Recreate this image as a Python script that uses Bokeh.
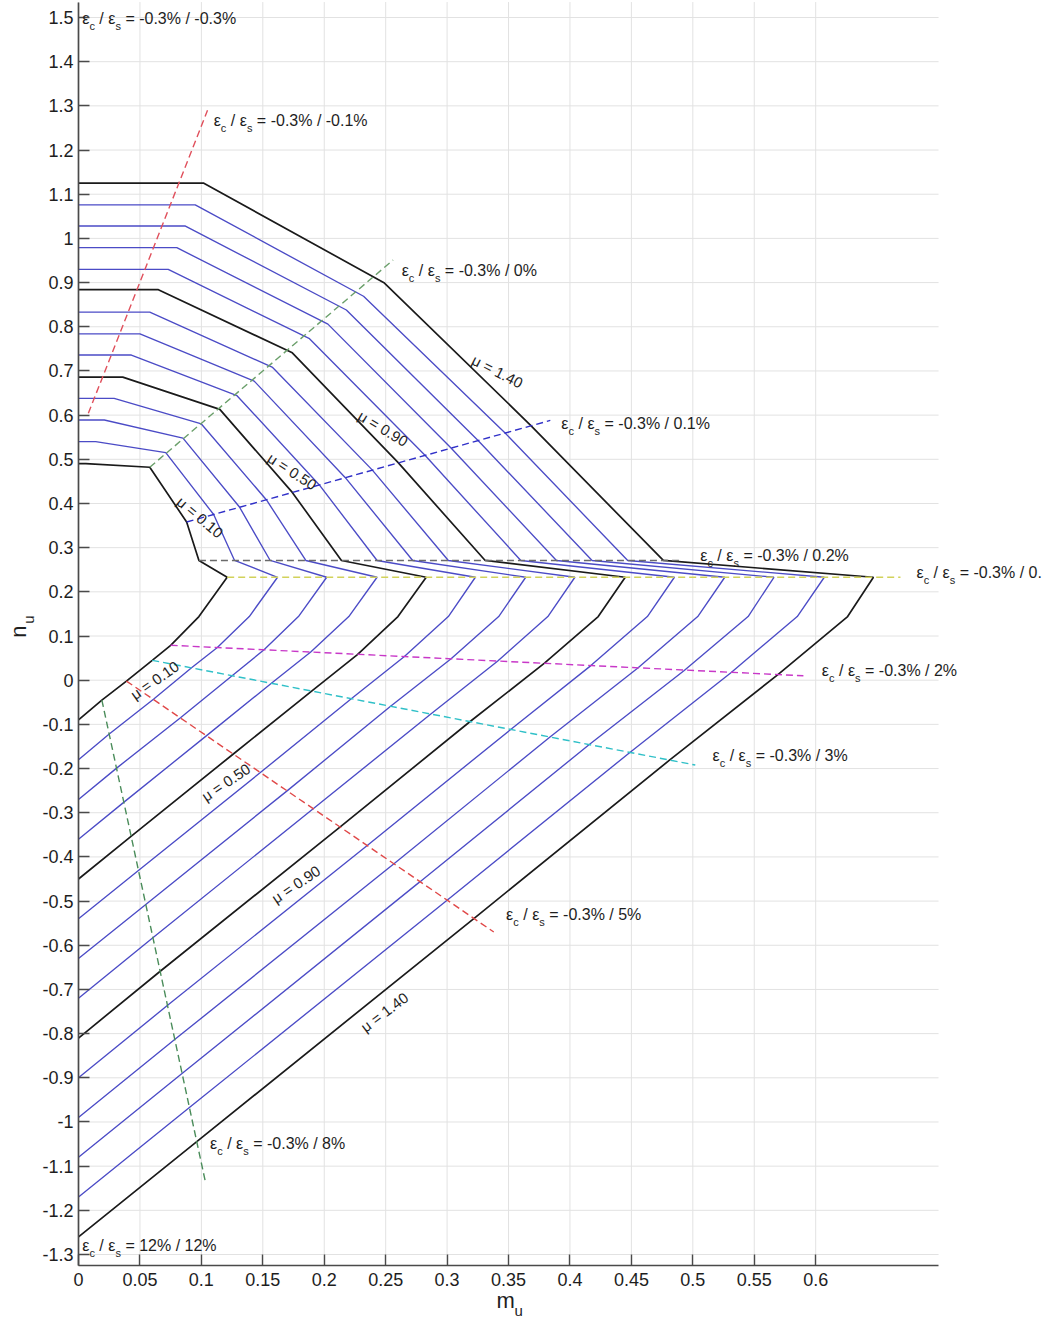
from bokeh.plotting import figure
from bokeh.models import Label, FixedTicker
from bokeh.embed import file_html
from bokeh.resources import INLINE

# ---------------- data ----------------
mu = [0.1, 0.2, 0.3, 0.4, 0.5, 0.6, 0.7, 0.8, 0.9, 1.0, 1.1, 1.2, 1.3, 1.4]
mu_black = [0.1, 0.5, 0.9, 1.4]

# top plateau (m = 0 ... end of horizontal part)
n_top = [0.490, 0.540, 0.589, 0.638, 0.686, 0.736, 0.784, 0.833, 0.884, 0.930, 0.979, 1.028, 1.076, 1.125]
m_top_end = [0.006, 0.014, 0.021, 0.029, 0.036, 0.043, 0.050, 0.058, 0.065, 0.073, 0.080, 0.087, 0.095, 0.102]
# eps_c / eps_s = -0.3% / 0%
m_s0 = [0.058, 0.071, 0.085, 0.100, 0.115, 0.129, 0.143, 0.158, 0.174, 0.188, 0.203, 0.218, 0.232, 0.249]
n_s0 = [0.482, 0.515, 0.548, 0.580, 0.613, 0.644, 0.677, 0.708, 0.741, 0.773, 0.806, 0.838, 0.869, 0.899]
# -0.3% / 0.1%
m_s01 = [0.088, 0.110, 0.131, 0.153, 0.174, 0.196, 0.217, 0.239, 0.260, 0.282, 0.303, 0.325, 0.347, 0.368]
n_s01 = [0.358, 0.375, 0.392, 0.408, 0.425, 0.442, 0.459, 0.476, 0.493, 0.509, 0.526, 0.543, 0.560, 0.577]
# -0.3% / 0.2%
m_s02 = [0.098, 0.127, 0.156, 0.185, 0.214, 0.243, 0.272, 0.301, 0.331, 0.360, 0.389, 0.418, 0.447, 0.476]
n_s02 = [0.271, 0.271, 0.271, 0.271, 0.271, 0.271, 0.271, 0.271, 0.271, 0.271, 0.271, 0.271, 0.271, 0.271]
# yield point (apex)
m_sy = [0.121, 0.162, 0.202, 0.243, 0.283, 0.323, 0.364, 0.404, 0.445, 0.485, 0.526, 0.566, 0.607, 0.647]
n_sy = [0.233, 0.233, 0.233, 0.233, 0.233, 0.233, 0.233, 0.233, 0.233, 0.233, 0.233, 0.233, 0.233, 0.233]
# lower bend
m_sb = [0.098, 0.139, 0.179, 0.220, 0.260, 0.301, 0.342, 0.382, 0.423, 0.463, 0.504, 0.545, 0.585, 0.626]
n_sb = [0.144, 0.144, 0.144, 0.144, 0.144, 0.144, 0.144, 0.144, 0.144, 0.144, 0.144, 0.144, 0.144, 0.144]
# -0.3% / 2%
m_s2 = [0.075, 0.113, 0.151, 0.189, 0.227, 0.265, 0.303, 0.341, 0.379, 0.417, 0.455, 0.493, 0.531, 0.569]
n_s2 = [0.079, 0.074, 0.069, 0.064, 0.058, 0.053, 0.048, 0.043, 0.038, 0.033, 0.027, 0.022, 0.017, 0.012]
# -0.3% / 3%
m_s3 = [0.060, 0.092, 0.125, 0.157, 0.190, 0.222, 0.254, 0.287, 0.319, 0.352, 0.384, 0.416, 0.449, 0.481]
n_s3 = [0.045, 0.028, 0.010, -0.007, -0.024, -0.042, -0.059, -0.076, -0.093, -0.111, -0.128, -0.145, -0.163, -0.181]
# -0.3% / 5%
m_s5 = [0.039, 0.061, 0.083, 0.104, 0.126, 0.148, 0.170, 0.191, 0.213, 0.235, 0.257, 0.278, 0.300, 0.322]
n_s5 = [-0.002, -0.043, -0.085, -0.126, -0.167, -0.209, -0.250, -0.291, -0.332, -0.374, -0.415, -0.456, -0.498, -0.539]
# -0.3% / 8%
m_s8 = [0.019, 0.025, 0.031, 0.037, 0.043, 0.049, 0.055, 0.060, 0.066, 0.072, 0.078, 0.084, 0.090, 0.096]
n_s8 = [-0.045, -0.122, -0.199, -0.276, -0.353, -0.430, -0.507, -0.584, -0.660, -0.737, -0.814, -0.891, -0.968, -1.045]
# 12% / 12% (pure tension, m = 0)
n_tension = [-0.09, -0.18, -0.27, -0.36, -0.45, -0.54, -0.63, -0.72, -0.81, -0.90, -0.99, -1.08, -1.17, -1.26]

# dashed strain-state lines (start / end)
strain_m0 = [0.008, 0.058, 0.088, 0.098, 0.121, 0.075, 0.060, 0.039, 0.019]
strain_n0 = [0.604, 0.482, 0.358, 0.271, 0.233, 0.079, 0.045, -0.002, -0.045]
strain_m1 = [0.105, 0.256, 0.384, 0.490, 0.669, 0.590, 0.502, 0.338, 0.103]
strain_n1 = [1.290, 0.951, 0.588, 0.271, 0.233, 0.010, -0.192, -0.570, -1.132]

# strain-state annotations
strain_texts = ["= -0.3% / -0.3%", "= -0.3% / -0.1%", "= -0.3% / 0%", "= -0.3% / 0.1%",
                "= -0.3% / 0.2%", "= -0.3% / 0.", "= -0.3% / 2%", "= -0.3% / 3%",
                "= -0.3% / 5%", "= -0.3% / 8%", "= 12% / 12%"]
strain_text_m = [0.003, 0.110, 0.263, 0.393, 0.506, 0.682, 0.605, 0.516, 0.348, 0.107, 0.003]
strain_text_n = [1.498, 1.268, 0.928, 0.582, 0.283, 0.244, 0.023, -0.170, -0.530, -1.048, -1.279]

# mu labels
mu_label_text = ["\u03bc = 1.40", "\u03bc = 0.90", "\u03bc = 0.50", "\u03bc = 0.10",
                 "\u03bc = 0.10", "\u03bc = 0.50", "\u03bc = 0.90", "\u03bc = 1.40"]
mu_label_m = [0.341, 0.248, 0.174, 0.099, 0.062, 0.120, 0.177, 0.249]
mu_label_n = [0.699, 0.570, 0.473, 0.369, 0.000, -0.231, -0.462, -0.751]
mu_label_angle = [-27, -31, -33, -40, 35, 34, 34, 37]

x_ticks = [0, 0.05, 0.1, 0.15, 0.2, 0.25, 0.3, 0.35, 0.4, 0.45, 0.5, 0.55, 0.6]
y_ticks = [-1.3, -1.2, -1.1, -1.0, -0.9, -0.8, -0.7, -0.6, -0.5, -0.4, -0.3, -0.2, -0.1, 0.0,
           0.1, 0.2, 0.3, 0.4, 0.5, 0.6, 0.7, 0.8, 0.9, 1.0, 1.1, 1.2, 1.3, 1.4, 1.5]
x_tick_labels = ["0", "0.05", "0.1", "0.15", "0.2", "0.25", "0.3", "0.35", "0.4", "0.45", "0.5", "0.55", "0.6"]
y_tick_labels = ["-1.3", "-1.2", "-1.1", "-1", "-0.9", "-0.8", "-0.7", "-0.6", "-0.5", "-0.4", "-0.3", "-0.2",
                 "-0.1", "0", "0.1", "0.2", "0.3", "0.4", "0.5", "0.6", "0.7", "0.8", "0.9", "1", "1.1",
                 "1.2", "1.3", "1.4", "1.5"]

# axes box (data limits of the drawn axes)
M_MIN, M_MAX = 0.0, 0.7
N_MIN, N_MAX = -1.325, 1.535

# ---------------- figure ----------------
FONT = "Liberation Sans"
TXT = "#1e1e1e"

p = figure(width=1056, height=1324, x_range=(-0.0635, 0.7960), y_range=(-1.4584, 1.5385),
           output_backend="svg", toolbar_location=None,
           min_border_left=0, min_border_right=0, min_border_top=0, min_border_bottom=0)
p.outline_line_color = None
p.background_fill_color = "white"
p.grid.visible = False

for ax in (p.xaxis[0], p.yaxis[0]):
    ax.axis_line_color = "#4a4a4a"
    ax.axis_line_width = 1.7
    ax.major_tick_line_color = "#4a4a4a"
    ax.major_tick_line_width = 1.4
    ax.major_tick_in = 11
    ax.major_tick_out = 0
    ax.minor_tick_line_color = None
    ax.major_label_text_font = FONT
    ax.major_label_text_font_size = "18px"
    ax.major_label_text_color = TXT

p.xaxis.fixed_location = N_MIN
p.yaxis.fixed_location = M_MIN
p.xaxis.bounds = (M_MIN, M_MAX)
p.yaxis.bounds = (N_MIN, N_MAX)
p.xaxis.ticker = FixedTicker(ticks=x_ticks)
p.yaxis.ticker = FixedTicker(ticks=y_ticks)
p.xaxis.major_label_overrides = {t: s for t, s in zip(x_ticks, x_tick_labels)}
p.yaxis.major_label_overrides = {t: s for t, s in zip(y_ticks, y_tick_labels)}
p.xaxis.major_label_standoff = 7
p.yaxis.major_label_standoff = 5

# grid lines limited to the axes box
GRID = "#e2e2e2"
p.segment(x0=x_ticks, y0=[N_MIN] * len(x_ticks), x1=x_ticks, y1=[N_MAX] * len(x_ticks),
          line_color=GRID, line_width=1, level="underlay")
p.segment(x0=[M_MIN] * len(y_ticks), y0=y_ticks, x1=[M_MAX] * len(y_ticks), y1=y_ticks,
          line_color=GRID, line_width=1, level="underlay")

# ---------------- curves ----------------
xs_blue, ys_blue, xs_black, ys_black = [], [], [], []
for i, u in enumerate(mu):
    xs = [0, m_top_end[i], m_s0[i], m_s01[i], m_s02[i], m_sy[i], m_sb[i],
          m_s2[i], m_s3[i], m_s5[i], m_s8[i], 0]
    ys = [n_top[i], n_top[i], n_s0[i], n_s01[i], n_s02[i], n_sy[i], n_sb[i],
          n_s2[i], n_s3[i], n_s5[i], n_s8[i], n_tension[i]]
    if any(abs(u - b) < 1e-9 for b in mu_black):
        xs_black.append(xs); ys_black.append(ys)
    else:
        xs_blue.append(xs); ys_blue.append(ys)

p.multi_line(xs_blue, ys_blue, line_color="#3737c0", line_width=1.35, line_alpha=0.9)
p.multi_line(xs_black, ys_black, line_color="#1a1a1a", line_width=1.7)

# ---------------- dashed strain lines ----------------
dash_colors = ["#e0505c", "#6a9f6a", "#3030c8", "#6a6a6a", "#d2d25a",
               "#c838c8", "#30c0c8", "#e04848", "#4a8c5a"]
for i in range(len(strain_m0)):
    p.line([strain_m0[i], strain_m1[i]], [strain_n0[i], strain_n1[i]],
           line_color=dash_colors[i], line_width=1.4, line_dash="7 4")

# ---------------- annotations ----------------
FS, SFS = 16, 11
EPS_W = 7.2     # width of epsilon at 16px
SUB_W = 5.5     # width of subscript letter at 11px
SP = 4.45       # space at 16px
SL = 4.45       # slash at 16px


def put(x, y, t, dx, dy, fs):
    p.add_layout(Label(x=x, y=y, text=t, x_offset=dx, y_offset=dy,
                       text_font=FONT, text_font_size=f"{fs}px", text_color=TXT,
                       text_align="left", text_baseline="middle"))


def strain_label(x, y, tail):
    o = 0.0
    put(x, y, "\u03b5", o, 0, FS); o += EPS_W
    put(x, y, "c", o, -8, SFS); o += SUB_W + SP
    put(x, y, "/", o, 0, FS); o += SL + SP
    put(x, y, "\u03b5", o, 0, FS); o += EPS_W
    put(x, y, "s", o, -8, SFS); o += SUB_W + SP
    put(x, y, tail, o, 0, FS)


for t, x, y in zip(strain_texts, strain_text_m, strain_text_n):
    strain_label(x, y, t)

for t, x, y, a in zip(mu_label_text, mu_label_m, mu_label_n, mu_label_angle):
    p.add_layout(Label(x=x, y=y, text=t, angle=a, angle_units="deg",
                       text_font=FONT, text_font_size="15px", text_color=TXT,
                       text_align="center", text_baseline="middle"))

# axis titles (with subscripts)
p.add_layout(Label(x=0.3476, y=-1.405, text="m", text_font=FONT, text_font_size="22px",
                   text_color=TXT, text_align="center", text_baseline="middle"))
p.add_layout(Label(x=0.3476, y=-1.405, text="u", x_offset=13, y_offset=-10, text_font=FONT,
                   text_font_size="15px", text_color=TXT, text_align="center", text_baseline="middle"))
p.add_layout(Label(x=-0.0488, y=0.11, text="n", angle=90, angle_units="deg", text_font=FONT,
                   text_font_size="22px", text_color=TXT, text_align="center", text_baseline="middle"))
p.add_layout(Label(x=-0.0488, y=0.11, text="u", angle=90, angle_units="deg", x_offset=10, y_offset=12,
                   text_font=FONT, text_font_size="15px", text_color=TXT,
                   text_align="center", text_baseline="middle"))

open("out.html", "w").write(file_html(p, INLINE))
